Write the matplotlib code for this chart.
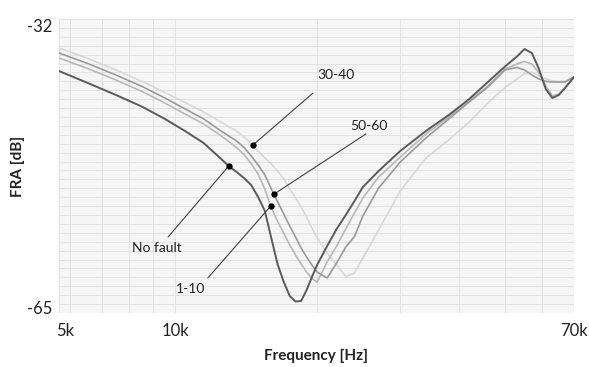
import numpy as np
import matplotlib
matplotlib.use('Agg')
import matplotlib.pyplot as plt
from matplotlib.ticker import FixedLocator, MultipleLocator, NullFormatter
import matplotlib.transforms as mtransforms

plt.rcParams['font.family'] = ['Lato', 'DejaVu Sans']

# ---- data (frequency in kHz, FRA in dB) ----
freq_khz = [5.68, 6.5, 7.5, 8.5, 9.5, 10.5, 11.5, 12.5, 13, 13.5, 14, 14.5, 15, 15.5, 16,
            16.5, 17, 17.5, 18, 18.5, 19, 19.5, 20, 21, 22, 23, 24, 25, 27, 30, 34, 38, 42,
            46, 50, 53, 55, 57, 59, 61, 63, 65, 67, 70]

no_fault = [-37.84, -39.13, -40.53, -41.82, -43.19, -44.57, -45.92, -47.67, -48.50, -49.17,
            -49.85, -50.63, -51.98, -53.55, -56.63, -59.55, -61.52, -63.09, -63.71, -63.65,
            -62.42, -60.96, -59.61, -57.48, -55.57, -54.0, -52.43, -50.86, -49.06, -46.81,
            -44.57, -42.78, -40.98, -39.07, -37.33, -36.21, -35.37, -35.82, -37.61, -39.86,
            -40.87, -40.53, -39.75, -38.51]

fault_30_40 = [-35.25, -36.38, -37.72, -38.99, -40.23, -41.37, -42.44, -43.56, -44.08, -44.57,
               -45.24, -46.03, -46.81, -47.60, -48.27, -49.06, -49.96, -51.08, -52.09, -53.10,
               -54.22, -55.46, -56.58, -58.26, -59.61, -60.9, -60.5, -58.82, -55.68, -51.30,
               -47.60, -45.58, -43.56, -41.43, -39.69, -38.73, -38.12, -37.95, -38.40, -38.73,
               -38.96, -39.01, -38.96, -38.51]

fault_50_60 = [-35.82, -36.95, -38.29, -39.55, -40.84, -42.09, -43.21, -44.55, -45.13, -45.69,
               -46.42, -47.37, -48.38, -49.50, -51.08, -52.54, -53.89, -55.23, -56.47, -57.70,
               -58.71, -59.61, -60.40, -61.07, -59.38, -57.59, -56.41, -54.11, -50.97, -48.05,
               -45.36, -43.22, -41.32, -39.63, -37.72, -37.44, -37.72, -38.29, -38.73, -39.01,
               -39.07, -39.07, -39.07, -38.51]

fault_1_10 = [-36.38, -37.51, -38.85, -40.11, -41.41, -42.66, -43.78, -45.08, -45.75, -46.42,
              -47.21, -48.22, -49.40, -51.08, -53.21, -54.73, -56.07, -57.36, -58.49, -59.50,
              -60.40, -61.12, -61.52, -59.27, -57.48, -55.57, -53.77, -52.09, -49.73, -47.49,
              -44.91, -43.0, -41.20, -39.52, -37.61, -37.05, -36.77, -37.05, -38.06, -39.52,
              -40.64, -40.42, -39.69, -38.51]

series_names = ['30-40', '1-10', '50-60', 'No fault']
series_values = [fault_30_40, fault_1_10, fault_50_60, no_fault]
series_colors = ['#d8d8d8', '#b8b8b8', '#9a9a9a', '#5a5a5a']

# annotation anchor frequencies (kHz) for each label
annot_freq = {'No fault': 13.0, '30-40': 14.6, '50-60': 16.2, '1-10': 15.95}

x_ticks_khz = [5.68, 10, 70]
x_tick_labels = ['5k', '10k', '70k']
x_minor_khz = [6, 7, 8, 9, 20, 30, 40, 50, 60]
y_ticks = [-65, -32]
y_tick_labels = ['-65', '-32']

# ---- figure ----
W, H = 589, 367
fig = plt.figure(figsize=(W / 100, H / 100), dpi=100)
fig.patch.set_facecolor('white')
ax = fig.add_axes([59 / W, 1 - 313 / H, (574 - 59) / W, (313 - 19) / H])
ax.set_facecolor('#f5f5f5')

f_hz = np.array(freq_khz) * 1000
for name, vals, col in zip(series_names, series_values, series_colors):
    lw = 1.4 if name == 'No fault' else 1.2
    ax.plot(f_hz, vals, color=col, lw=lw, solid_joinstyle='round', zorder=3)

ax.set_xscale('log')
ax.set_xlim(f_hz[0], f_hz[-1])
ax.set_ylim(-65, -32)

ax.xaxis.set_major_locator(FixedLocator([k * 1000 for k in x_ticks_khz]))
ax.xaxis.set_minor_locator(FixedLocator([k * 1000 for k in x_minor_khz]))
ax.set_xticklabels(x_tick_labels)
ax.xaxis.set_minor_formatter(NullFormatter())
ax.set_yticks(y_ticks)
ax.set_yticklabels(y_tick_labels)
ax.yaxis.set_minor_locator(MultipleLocator(1))

ax.grid(True, which='both', color='#e2e2e2', lw=0.7, zorder=0)
ax.set_axisbelow(True)
for s in ax.spines.values():
    s.set_visible(False)
ax.tick_params(which='both', length=0)
ax.tick_params(axis='x', labelsize=12, pad=7, labelcolor='#222222')
ax.tick_params(axis='y', labelsize=12, pad=5, labelcolor='#222222')

# small offsets of tick labels (as in reference)
xl = ax.get_xticklabels()
xl[0].set_transform(xl[0].get_transform() + mtransforms.ScaledTranslation(6 / 100, 0, fig.dpi_scale_trans))
yl = ax.get_yticklabels()
yl[0].set_transform(yl[0].get_transform() + mtransforms.ScaledTranslation(0, 6 / 100, fig.dpi_scale_trans))
yl[1].set_transform(yl[1].get_transform() + mtransforms.ScaledTranslation(0, -6 / 100, fig.dpi_scale_trans))

fig.text(18 / W, 1 - 166 / H, 'FRA [dB]', rotation=90, ha='center', va='center',
         fontsize=11, fontweight='bold', color='#222222')
fig.text(316 / W, 1 - 356 / H, 'Frequency [Hz]', ha='center', va='center',
         fontsize=11, fontweight='bold', color='#222222')

# annotations: (line end in axes fraction, text centre in axes fraction)
annot_layout = {
    '30-40': ((0.493, 0.748), (0.538, 0.810)),
    '50-60': ((0.596, 0.609), (0.602, 0.636)),
    'No fault': ((0.212, 0.259), (0.190, 0.221)),
    '1-10': ((0.289, 0.119), (0.256, 0.082)),
}
lf = np.log10(f_hz)
for name, vals in zip(series_names, series_values):
    fk = annot_freq[name] * 1000
    yv = np.interp(np.log10(fk), lf, vals)
    (lx, ly), (tx, ty) = annot_layout[name]
    ax.annotate('', xy=(fk, yv), xytext=(lx, ly), textcoords='axes fraction',
                arrowprops=dict(arrowstyle='-', color='#404040', lw=0.8, shrinkA=0, shrinkB=0),
                zorder=4)
    ax.plot([fk], [yv], 'o', ms=3.5, color='black', zorder=5)
    ax.text(tx, ty, name, transform=ax.transAxes, ha='center', va='center',
            fontsize=10, color='#222222', zorder=5)

fig.savefig('out.png', dpi=100)
